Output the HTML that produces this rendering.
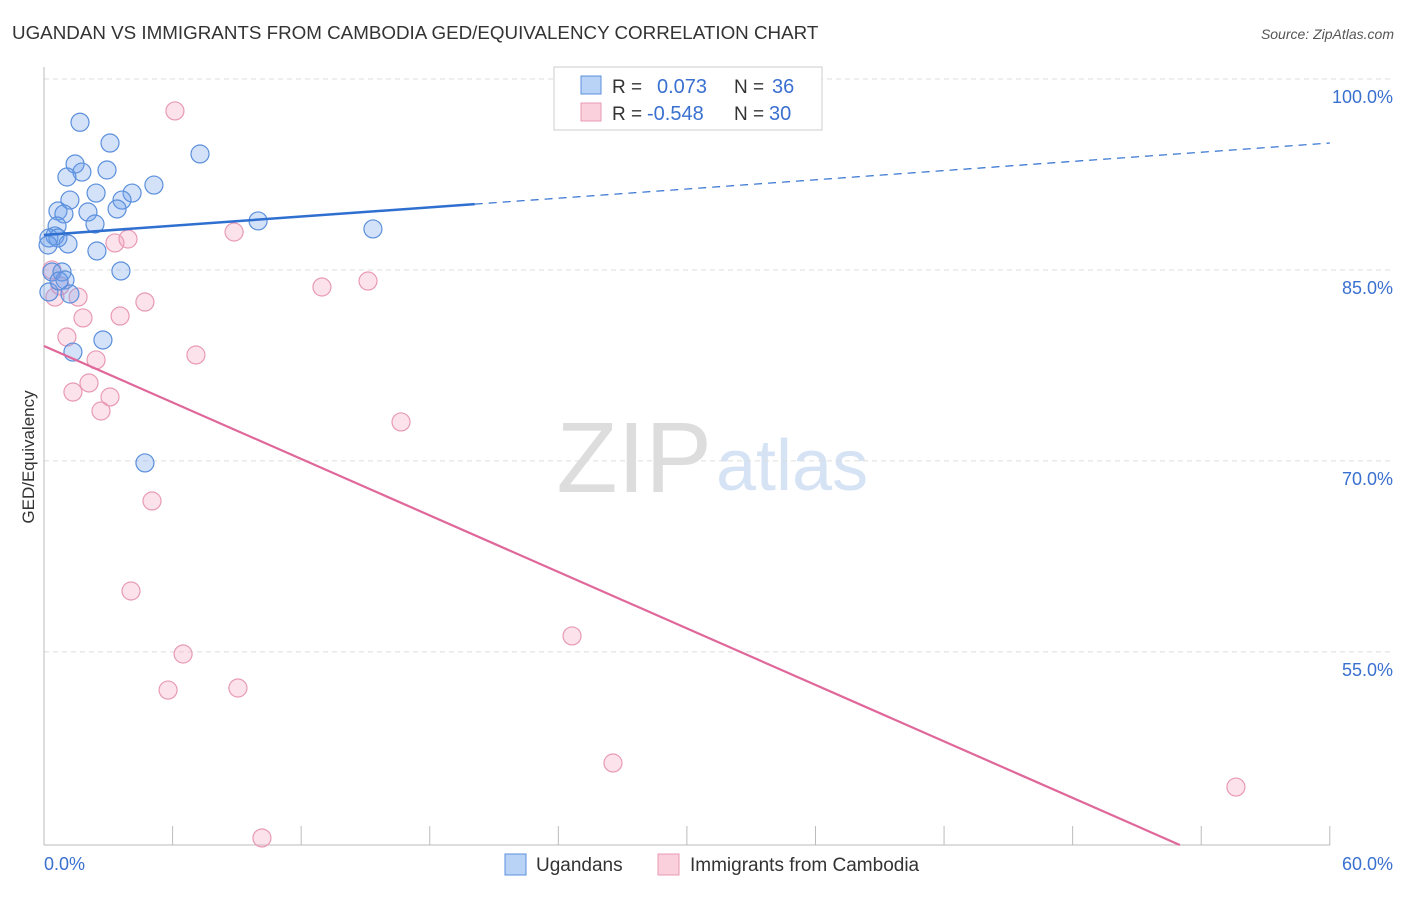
<!DOCTYPE html>
<html><head><meta charset="utf-8"><style>
body{margin:0;background:#fff;font-family:"Liberation Sans",sans-serif;}
svg text{font-family:"Liberation Sans",sans-serif;}
</style></head><body>
<svg id="chart" width="1406" height="892">
<text x="12" y="39" font-size="18.8" fill="#333">UGANDAN VS IMMIGRANTS FROM CAMBODIA GED/EQUIVALENCY CORRELATION CHART</text>
<text x="1394" y="39" font-size="14" fill="#555" font-style="italic" text-anchor="end">Source: ZipAtlas.com</text>
<text x="712" y="492" font-size="100" fill="#ddd" text-anchor="end" font-family="Liberation Serif">ZIP</text>
<text x="716" y="490" font-size="72" fill="#d6e3f5">atlas</text>
<text transform="translate(34,457) rotate(-90)" font-size="17" fill="#333" text-anchor="middle">GED/Equivalency</text>
<g id="grid"></g><g id="marks"></g>
<g>
<rect x="554" y="67" width="268" height="63" fill="#fff" stroke="#ccc"/>
<rect x="581" y="76" width="20" height="18" fill="#b9d3f6" stroke="#5b8fdc"/>
<rect x="581" y="103" width="20" height="18" fill="#fbd0dd" stroke="#e89ab4"/>
<text x="612" y="93" font-size="19" fill="#333">R =</text><text x="657" y="93" font-size="20" fill="#3a70d0">0.073</text>
<text x="734" y="93" font-size="19" fill="#333">N =</text><text x="772" y="93" font-size="20" fill="#3a70d0">36</text>
<text x="612" y="120" font-size="19" fill="#333">R =</text><text x="647" y="120" font-size="20" fill="#3a70d0">-0.548</text>
<text x="734" y="120" font-size="19" fill="#333">N =</text><text x="769" y="120" font-size="20" fill="#3a70d0">30</text>
</g>
<g>
<rect x="505" y="854" width="21" height="21" fill="#b9d3f6" stroke="#5b8fdc"/>
<text x="536" y="871" font-size="19" fill="#333">Ugandans</text>
<rect x="658" y="854" width="21" height="21" fill="#fbd0dd" stroke="#e89ab4"/>
<text x="690" y="871" font-size="19" fill="#333">Immigrants from Cambodia</text>
</g>
</svg>
<script>
const yTicks=[100,85,70,55];
const xTickLabels=["0.0%","60.0%"];
const blueX=[1.68,3.08,1.45,2.94,1.77,1.07,7.28,5.13,2.43,4.11,1.21,3.64,3.41,0.65,0.93,2.05,0.61,2.38,9.99,15.35,0.51,0.23,0.65,0.19,1.12,2.47,3.59,0.37,0.84,0.98,1.21,0.23,2.75,1.35,4.71,0.70];
const blueY=[96.6,94.97,93.32,92.85,92.69,92.30,94.11,91.67,91.04,91.04,90.49,90.49,89.79,89.63,89.40,89.55,88.45,88.61,88.85,88.22,87.67,87.51,87.51,86.96,87.04,86.49,84.92,84.84,84.84,84.21,83.11,83.27,79.50,78.55,69.84,84.13];
const pinkX=[6.11,8.87,3.31,3.92,0.37,0.75,1.59,0.51,4.71,12.97,15.12,3.55,1.82,1.07,7.09,2.43,2.10,1.35,3.08,2.66,16.66,5.04,4.06,24.64,6.49,5.79,9.05,26.55,55.62,10.17];
const pinkY=[97.49,87.98,87.12,87.43,85.00,83.74,82.87,82.87,82.48,83.66,84.13,81.38,81.23,79.73,78.32,77.93,76.12,75.41,75.02,73.92,73.06,66.85,59.78,56.25,54.83,52.00,52.16,46.27,44.38,40.38];
const blueTrend=[87.75,94.97];
const pinkTrend=[79.03,-0.7396];
const NS="http://www.w3.org/2000/svg";
const xs=v=>44+v*21.43, ys=v=>79+(100-v)*12.73;
function mk(t,a,p){const e=document.createElementNS(NS,t);for(const k in a)e.setAttribute(k,a[k]);p.appendChild(e);return e;}
const g=document.getElementById('grid'), m=document.getElementById('marks');
yTicks.forEach(t=>{
 const l=mk('line',{x1:44,x2:1394,y1:ys(t),y2:ys(t),stroke:'#ddd','stroke-dasharray':'5,4'},g);
 
 
 const tx=mk('text',{x:1393,y:ys(t)+24,'font-size':18,fill:'#3a70d0','text-anchor':'end'},g);
 tx.textContent=t.toFixed(1)+'%';
 
 
});
mk('line',{x1:44,x2:44,y1:67,y2:845,stroke:'#bbb'},g);
mk('line',{x1:44,x2:1330,y1:845,y2:845,stroke:'#bbb'},g);
for(let i=1;i<=10;i++){const t=mk('line',{x1:xs(i*6),x2:xs(i*6),y1:826,y2:845,stroke:'#bbb'},g);
 
 }
const t0=mk('text',{x:44,y:870,'font-size':18,fill:'#3a70d0'},g);t0.textContent=xTickLabels[0];


const t1=mk('text',{x:1393,y:870,'font-size':18,fill:'#3a70d0','text-anchor':'end'},g);t1.textContent=xTickLabels[1];


pinkX.forEach((x,i)=>{const c=mk('circle',{cx:xs(x),cy:ys(pinkY[i]),r:9,fill:'rgba(245,160,190,0.3)',stroke:'#e89ab4','stroke-width':1.2},m);
 
 });
blueX.forEach((x,i)=>{const c=mk('circle',{cx:xs(x),cy:ys(blueY[i]),r:9,fill:'rgba(110,160,235,0.3)',stroke:'#5b8fdc','stroke-width':1.2},m);
 
 });
const bAt=x=>blueTrend[0]+(blueTrend[1]-blueTrend[0])*x/60;
const bl=mk('line',{x1:xs(0),y1:ys(bAt(0)),x2:xs(20.1),y2:ys(bAt(20.1)),stroke:'#2f6fd0','stroke-width':2.5},m);


const bd=mk('line',{x1:xs(20.1),y1:ys(bAt(20.1)),x2:xs(60),y2:ys(bAt(60)),stroke:'#2f6fd0','stroke-width':1.2,'stroke-dasharray':'8,6'},m);


const xEnd=(39.83-pinkTrend[0])/pinkTrend[1];
const pl=mk('line',{x1:xs(0),y1:ys(pinkTrend[0]),x2:xs(xEnd),y2:ys(pinkTrend[0]+pinkTrend[1]*xEnd),stroke:'#e0679a','stroke-width':2.2},m);


</script>
</body></html>
